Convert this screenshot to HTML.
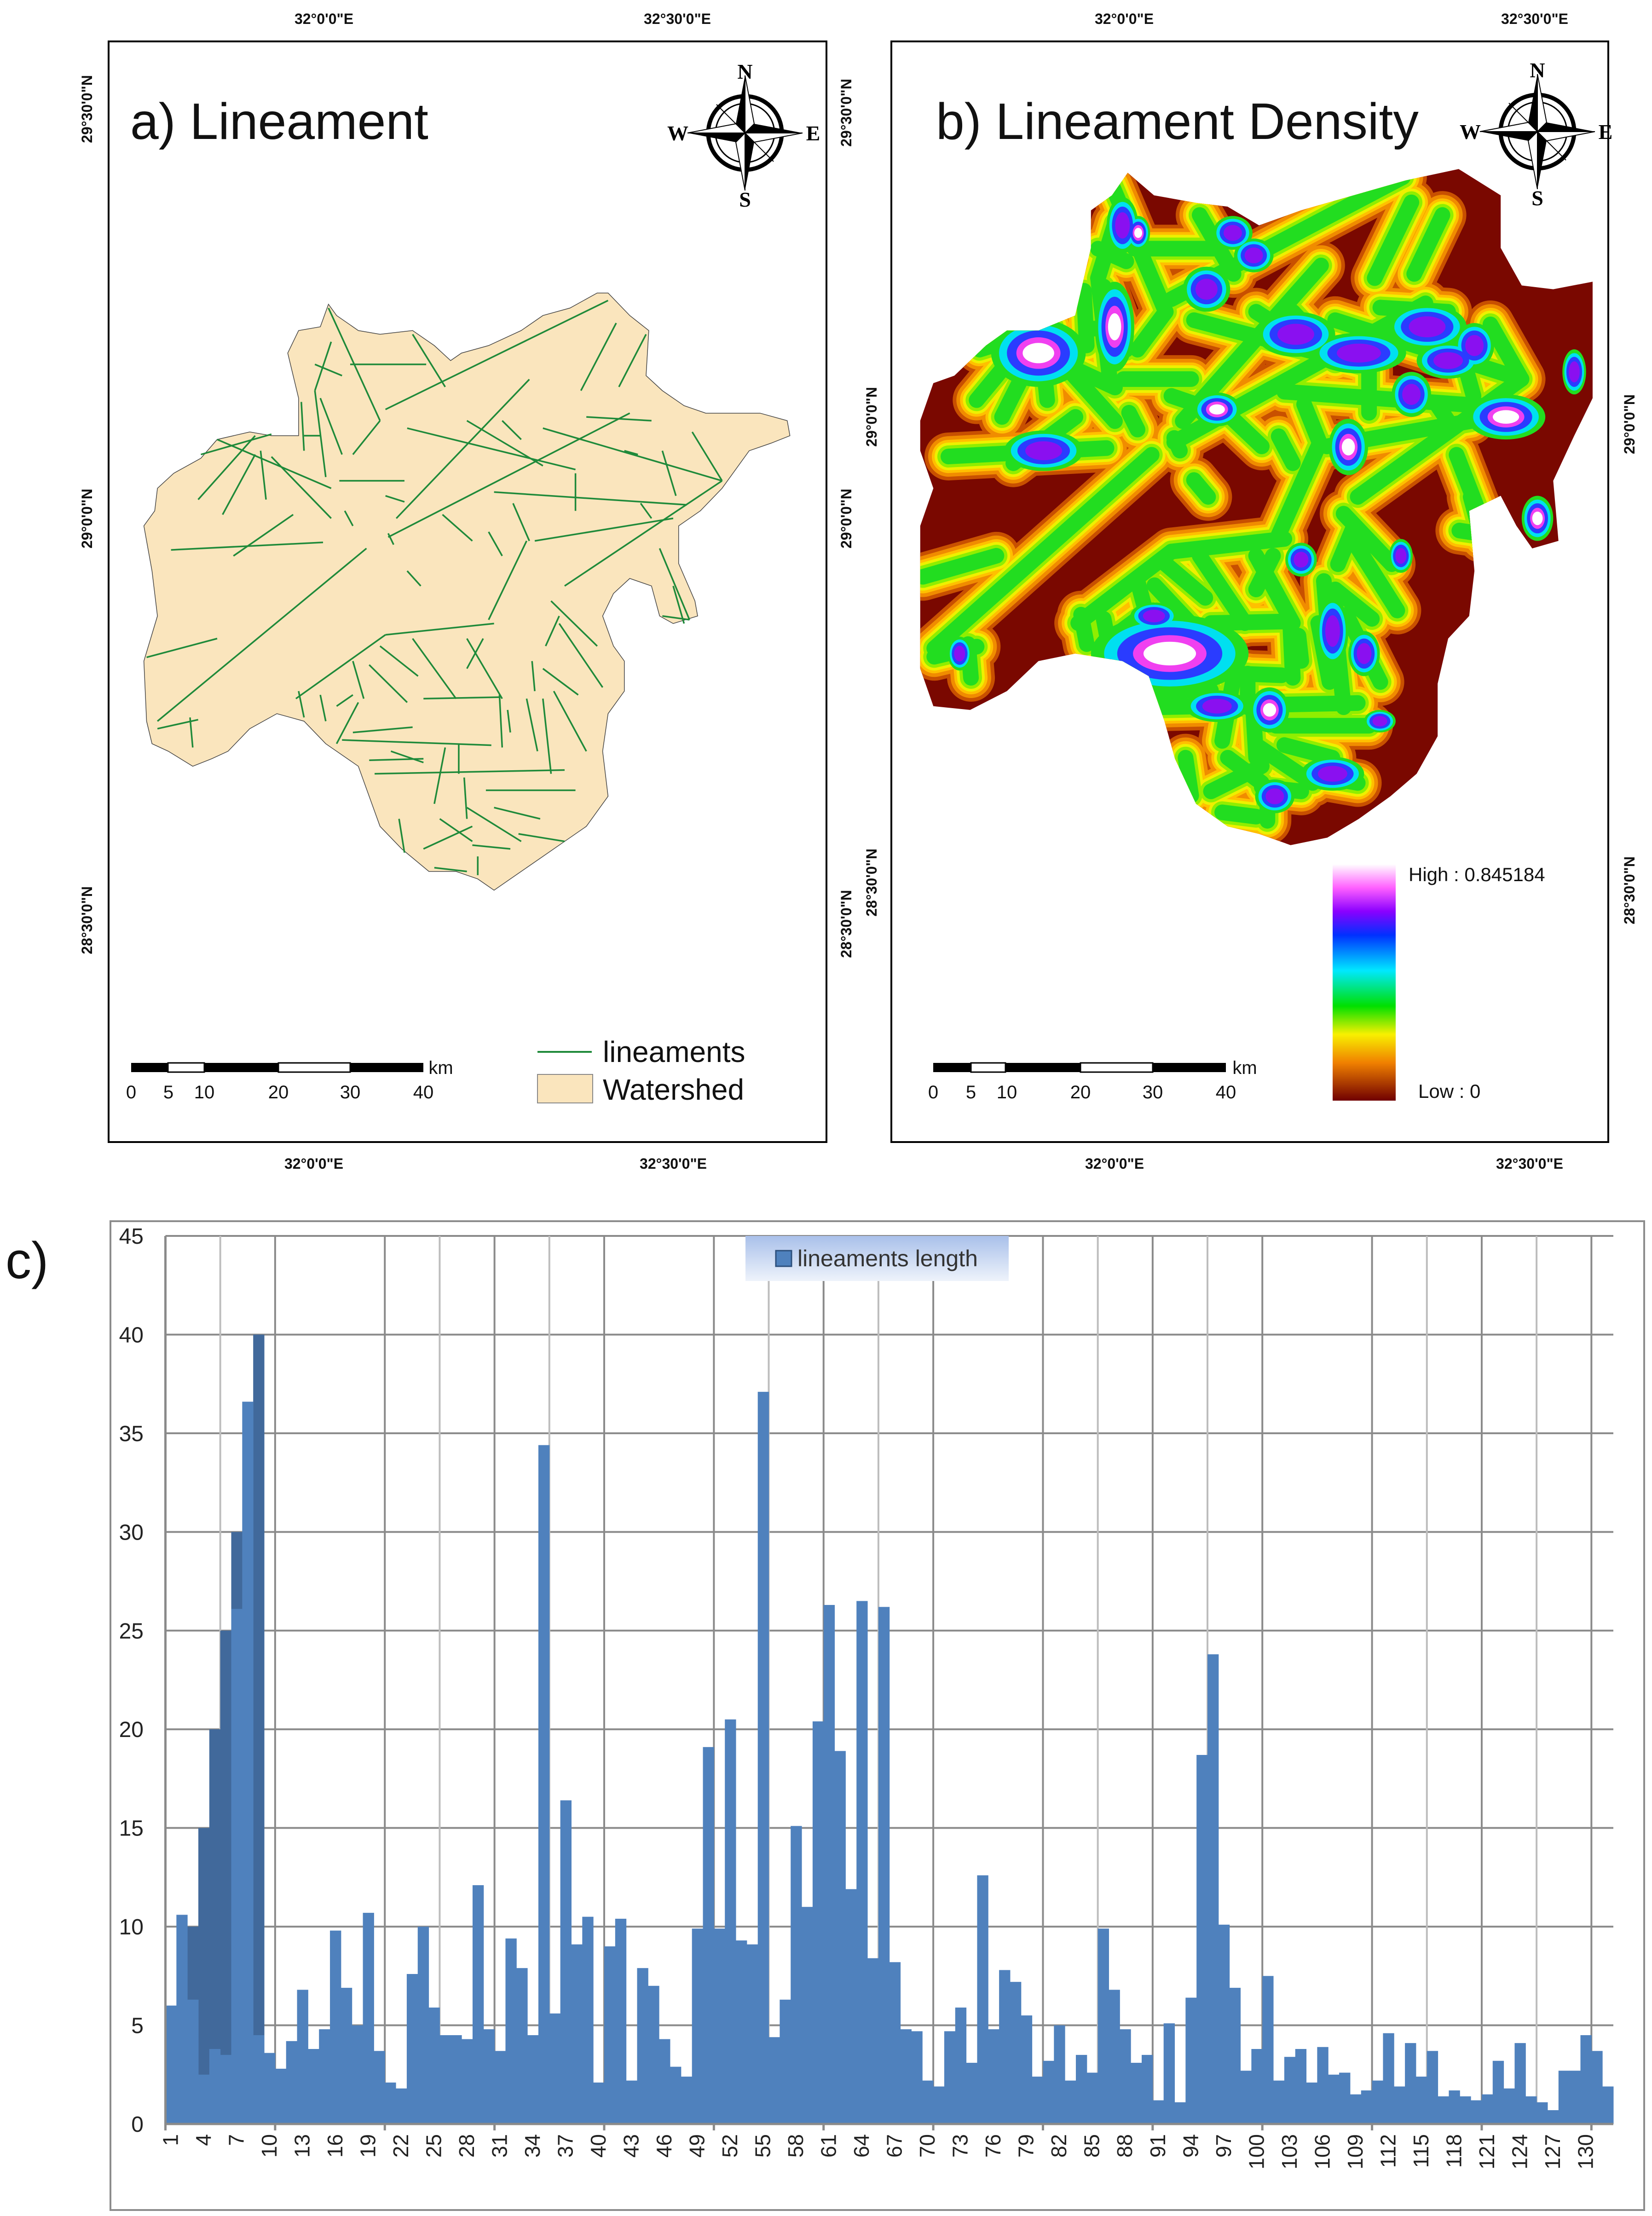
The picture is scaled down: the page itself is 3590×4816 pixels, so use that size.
<!DOCTYPE html>
<html><head><meta charset="utf-8">
<style>
html,body{margin:0;padding:0;background:#fff;}
svg{display:block;}
.lat{font-family:"Liberation Sans",sans-serif;font-weight:bold;font-size:32px;fill:#111;}
</style></head>
<body>
<svg id="root" xmlns="http://www.w3.org/2000/svg" width="3590" height="4816" viewBox="0 0 3590 4816">
<defs>
  <clipPath id="clipB">
    <polygon transform="translate(1800,0) scale(1.14155,1.63265)" points="570,230 620,260 700,270 760,275 820,300 900,280 1000,260 1100,240 1200,225 1280,260 1280,330 1320,380 1380,385 1455,375 1455,530 1420,580 1380,640 1390,720 1340,730 1310,700 1280,660 1220,680 1230,760 1220,820 1180,850 1160,910 1160,980 1120,1030 1070,1060 1010,1090 950,1115 880,1125 820,1110 760,1100 700,1070 660,1010 640,960 610,900 560,880 470,870 400,880 340,920 270,945 200,940 175,890 175,700 200,650 175,600 175,560 200,510 240,500 300,460 340,440 400,440 470,420 500,330 500,280 540,260"/>
  </clipPath>
  <linearGradient id="densGrad" x1="0" y1="0" x2="0" y2="1">
    <stop offset="0" stop-color="#ffffff"/>
    <stop offset="0.1" stop-color="#ff60ff"/>
    <stop offset="0.2" stop-color="#8a00ff"/>
    <stop offset="0.3" stop-color="#0030ff"/>
    <stop offset="0.45" stop-color="#00e8ff"/>
    <stop offset="0.6" stop-color="#00e000"/>
    <stop offset="0.72" stop-color="#f8f000"/>
    <stop offset="0.84" stop-color="#f08000"/>
    <stop offset="1" stop-color="#700000"/>
  </linearGradient>
  <linearGradient id="legGrad" x1="0" y1="0" x2="0" y2="1">
    <stop offset="0" stop-color="#a9c0ea"/>
    <stop offset="1" stop-color="#eef3fb"/>
  </linearGradient>
  <g id="compass">
    <circle r="80" fill="none" stroke="#000" stroke-width="9"/>
    <circle r="64" fill="none" stroke="#000" stroke-width="3"/>
    <polygon points="0,0 -20,-20 -62,-62" fill="#fff" stroke="#000" stroke-width="2"/>
    <polygon points="0,0 20,-20 62,-62" fill="#000"/>
    <polygon points="0,0 20,20 62,62" fill="#fff" stroke="#000" stroke-width="2"/>
    <polygon points="0,0 -20,20 -62,62" fill="#000"/>
    <polygon points="0,0 20,-20 0,-125" fill="#fff" stroke="#000" stroke-width="2"/>
    <polygon points="0,0 -20,-20 0,-125" fill="#000"/>
    <polygon points="0,0 20,20 0,125" fill="#000"/>
    <polygon points="0,0 -20,20 0,125" fill="#fff" stroke="#000" stroke-width="2"/>
    <polygon points="0,0 20,-20 125,0" fill="#000"/>
    <polygon points="0,0 20,20 125,0" fill="#fff" stroke="#000" stroke-width="2"/>
    <polygon points="0,0 -20,-20 -125,0" fill="#fff" stroke="#000" stroke-width="2"/>
    <polygon points="0,0 -20,20 -125,0" fill="#000"/>
    <text x="0" y="-118" text-anchor="middle" font-family="Liberation Serif,serif" font-size="46" font-weight="bold">N</text>
    <text x="0" y="160" text-anchor="middle" font-family="Liberation Serif,serif" font-size="46" font-weight="bold">S</text>
    <text x="-146" y="16" text-anchor="middle" font-family="Liberation Serif,serif" font-size="46" font-weight="bold">W</text>
    <text x="148" y="16" text-anchor="middle" font-family="Liberation Serif,serif" font-size="46" font-weight="bold">E</text>
  </g>
</defs>

<!-- ================= Panel a ================= -->
<g>
  <rect x="236" y="90" width="1560" height="2392" fill="#fff" stroke="#000" stroke-width="4"/>
  <polygon transform="scale(1.17980,1.63265)" fill="#fae5bd" stroke="#444" stroke-width="1.5" vector-effect="non-scaling-stroke"
   points="605,405 620,420 660,440 700,445 760,440 800,460 830,480 850,470 900,460 960,440 1000,420 1050,410 1100,390 1120,390 1160,420 1195,440 1190,500 1220,520 1260,540 1300,550 1400,550 1450,560 1455,580 1420,590 1380,600 1350,630 1330,650 1290,680 1250,700 1250,750 1280,800 1285,820 1240,830 1215,820 1200,780 1160,770 1130,790 1110,820 1130,860 1150,880 1150,920 1120,950 1110,1000 1120,1060 1080,1100 1040,1120 1000,1140 960,1160 910,1185 880,1170 840,1160 790,1160 740,1130 700,1100 680,1060 660,1020 600,990 560,960 510,950 460,970 420,1000 390,1010 355,1020 310,1000 280,990 270,960 265,880 290,820 280,760 265,700 285,680 290,650 320,630 370,610 400,585 460,575 500,580 550,580 550,530 540,500 530,470 550,440 590,435"/>
  <g id="linesA"></g>
  <text x="283" y="302" font-family="Liberation Sans,sans-serif" font-size="111" fill="#111">a) Lineament</text>
  <use href="#compass" x="1619" y="289"/>
  <g>
    <rect x="285" y="2310" width="80" height="20" fill="#000"/>
    <rect x="365" y="2310" width="79" height="20" fill="#fff" stroke="#000" stroke-width="3"/>
    <rect x="444" y="2310" width="161" height="20" fill="#000"/>
    <rect x="605" y="2310" width="156" height="20" fill="#fff" stroke="#000" stroke-width="3"/>
    <rect x="761" y="2310" width="159" height="20" fill="#000"/>
    <g font-family="Liberation Sans,sans-serif" font-size="40" fill="#111" text-anchor="middle">
      <text x="285" y="2387">0</text><text x="366" y="2387">5</text><text x="444" y="2387">10</text>
      <text x="605" y="2387">20</text><text x="761" y="2387">30</text><text x="920" y="2387">40</text>
      <text x="958" y="2334">km</text>
    </g>
  </g>
  <g>
    <line x1="1168" y1="2286" x2="1286" y2="2286" stroke="#1f8a3a" stroke-width="4"/>
    <text x="1310" y="2308" font-family="Liberation Sans,sans-serif" font-size="64" fill="#111">lineaments</text>
    <rect x="1168" y="2335" width="120" height="62" fill="#fae5bd" stroke="#888" stroke-width="2"/>
    <text x="1310" y="2390" font-family="Liberation Sans,sans-serif" font-size="64" fill="#111">Watershed</text>
  </g>
  <g class="lat">
    <text x="704" y="52" text-anchor="middle">32°0'0"E</text>
    <text x="1472" y="52" text-anchor="middle">32°30'0"E</text>
    <text x="682" y="2540" text-anchor="middle">32°0'0"E</text>
    <text x="1463" y="2540" text-anchor="middle">32°30'0"E</text>
    <text transform="translate(200,237) rotate(-90)" text-anchor="middle">29°30'0"N</text>
    <text transform="translate(200,1127) rotate(-90)" text-anchor="middle">29°0'0"N</text>
    <text transform="translate(200,2000) rotate(-90)" text-anchor="middle">28°30'0"N</text>
    <text transform="translate(1850,245) rotate(-90)" text-anchor="middle">29°30'0"N</text>
    <text transform="translate(1850,1127) rotate(-90)" text-anchor="middle">29°0'0"N</text>
    <text transform="translate(1850,2008) rotate(-90)" text-anchor="middle">28°30'0"N</text>
  </g>
</g>

<!-- ================= Panel b ================= -->
<g>
  <rect x="1937" y="90" width="1558" height="2392" fill="#fff" stroke="#000" stroke-width="4"/>
  <g clip-path="url(#clipB)">
    <rect x="1900" y="300" width="1650" height="1600" fill="#7a0800"/>
    <g id="bandsB"></g>
    <g id="blobsB" transform="translate(1800,0) scale(1.14155,1.63265)"></g>
  </g>
  <text x="2034" y="302" font-family="Liberation Sans,sans-serif" font-size="111" fill="#111">b) Lineament Density</text>
  <use href="#compass" x="3341" y="286"/>
  <g>
    <rect x="2028" y="2310" width="82" height="20" fill="#000"/>
    <rect x="2110" y="2310" width="75" height="20" fill="#fff" stroke="#000" stroke-width="3"/>
    <rect x="2185" y="2310" width="163" height="20" fill="#000"/>
    <rect x="2348" y="2310" width="157" height="20" fill="#fff" stroke="#000" stroke-width="3"/>
    <rect x="2505" y="2310" width="159" height="20" fill="#000"/>
    <g font-family="Liberation Sans,sans-serif" font-size="40" fill="#111" text-anchor="middle">
      <text x="2028" y="2387">0</text><text x="2110" y="2387">5</text><text x="2188" y="2387">10</text>
      <text x="2348" y="2387">20</text><text x="2505" y="2387">30</text><text x="2664" y="2387">40</text>
      <text x="2705" y="2334">km</text>
    </g>
  </g>
  <g>
    <rect x="2896" y="1878" width="137" height="514" fill="url(#densGrad)"/>
    <text x="3061" y="1915" font-family="Liberation Sans,sans-serif" font-size="42" fill="#111">High : 0.845184</text>
    <text x="3082" y="2386" font-family="Liberation Sans,sans-serif" font-size="42" fill="#111">Low : 0</text>
  </g>
  <g class="lat">
    <text x="2443" y="52" text-anchor="middle">32°0'0"E</text>
    <text x="3335" y="52" text-anchor="middle">32°30'0"E</text>
    <text x="2422" y="2540" text-anchor="middle">32°0'0"E</text>
    <text x="3324" y="2540" text-anchor="middle">32°30'0"E</text>
    <text transform="translate(1905,906) rotate(-90)" text-anchor="middle">29°0'0"N</text>
    <text transform="translate(1905,1918) rotate(-90)" text-anchor="middle">28°30'0"N</text>
    <text transform="translate(3552,922) rotate(-90)" text-anchor="middle">29°0'0"N</text>
    <text transform="translate(3552,1935) rotate(-90)" text-anchor="middle">28°30'0"N</text>
  </g>
</g>

<!-- ================= Panel c ================= -->
<g>
  <rect x="240" y="2654" width="3333" height="2149" fill="#fff" stroke="#8c8c8c" stroke-width="4"/>
  <text x="12" y="2778" font-family="Liberation Sans,sans-serif" font-size="112" fill="#111">c)</text>
  <g id="gridC"></g>
  <g id="barsC"></g>
  <g id="axesC"></g>
  <g>
    <rect x="1620" y="2686" width="572" height="98" fill="url(#legGrad)"/>
    <rect x="1686" y="2718" width="34" height="34" fill="#4f81bd" stroke="#2c4f7c" stroke-width="3"/>
    <text x="1733" y="2752" font-family="Liberation Sans,sans-serif" font-size="50" fill="#333">lineaments length</text>
  </g>
</g>
</svg>

<script>
// ---------- chart data ----------
const lengths = [6.0,10.6,6.3,2.5,3.8,3.5,26.1,36.6,4.5,3.6,
2.8,4.2,6.8,3.8,4.8,9.8,6.9,5.0,10.7,3.7,
2.1,1.8,7.6,10.0,5.9,4.5,4.5,4.3,12.1,4.8,
3.7,9.4,7.9,4.5,34.4,5.6,16.4,9.1,10.5,2.1,
9.0,10.4,2.2,7.9,7.0,4.3,2.9,2.4,9.9,19.1,
9.9,20.5,9.3,9.1,37.1,4.4,6.3,15.1,11.0,20.4,
26.3,18.9,11.9,26.5,8.4,26.2,8.2,4.8,4.7,2.2,
1.9,4.7,5.9,3.1,12.6,4.8,7.8,7.2,5.5,2.4,
3.2,5.0,2.2,3.5,2.6,9.9,6.8,4.8,3.1,3.5,
1.2,5.1,1.1,6.4,18.7,23.8,10.1,6.9,2.7,3.8,
7.5,2.2,3.4,3.8,2.1,3.9,2.5,2.6,1.5,1.7,
2.2,4.6,1.9,4.1,2.4,3.7,1.4,1.7,1.4,1.2,
1.5,3.2,1.8,4.1,1.4,1.1,0.7,2.7,2.7,4.5,
3.7,1.9];
const categories = lengths.map((v,i)=>i+1);
const overlayCats = [3,4,5,6,7,9];
const overlayVals = [10,15,20,25,30,40];
const yTicks = [0,5,10,15,20,25,30,35,40,45];
const xTickLabels = [1,4,7,10,13,16,19,22,25,28,31,34,37,40,43,46,49,52,55,58,61,64,67,70,73,76,79,82,85,88,91,94,97,100,103,106,109,112,115,118,121,124,127,130];

const NS='http://www.w3.org/2000/svg';
function mk(tag, attrs, parent){const e=document.createElementNS(NS,tag);for(const k in attrs)e.setAttribute(k,attrs[k]);parent.appendChild(e);return e;}

const PL=359.5, PR=3506, PT=2686, PB=4616, YMAX=45;
const bw=(PR-PL)/categories.length;
function xs(cat){return PL+(cat-1)*bw;}
function ys(v){return PB-(v/YMAX)*(PB-PT);}

const grid=document.getElementById('gridC');
yTicks.forEach(t=>{
  if(t===0) return;
  const l=mk('line',{x1:PL,x2:PR,y1:ys(t),y2:ys(t),stroke:'#8a8a8a','stroke-width':4},grid);
  
  
});
for(let b=5;b<=categories.length;b+=5){
  if((b-15)%30===0) continue;
  const x=PL+b*bw;
  const l=mk('line',{x1:x,x2:x,y1:PT,y2:PB,stroke:(b%10===0?'#8a8a8a':'#bdbdbd'),'stroke-width':4},grid);
  
  
}

const bars=document.getElementById('barsC');
overlayCats.forEach((c,i)=>{
  const r=mk('rect',{x:xs(c),y:ys(overlayVals[i]),width:bw+0.5,height:PB-ys(overlayVals[i]),fill:'#41699b'},bars);
  
  
});
lengths.forEach((v,i)=>{
  const r=mk('rect',{x:xs(categories[i]),y:ys(v),width:bw+0.5,height:PB-ys(v),fill:'#4f81bd'},bars);
  
  
});

const axes=document.getElementById('axesC');
const ax=mk('line',{x1:PL,x2:PR,y1:PB,y2:PB,stroke:'#8a8a8a','stroke-width':5},axes);


const ay=mk('line',{x1:PL,x2:PL,y1:PT,y2:PB,stroke:'#8a8a8a','stroke-width':5},axes);


for(let b=0;b<=categories.length;b+=10){
  const tk=mk('line',{x1:PL+b*bw,x2:PL+b*bw,y1:PB,y2:PB+14,stroke:'#8a8a8a','stroke-width':5},axes);
  
  
}
yTicks.forEach(t=>{
  const tx=mk('text',{x:312,y:ys(t)+17,'text-anchor':'end','font-family':'Liberation Sans,sans-serif','font-size':48,fill:'#222'},axes);
  tx.textContent=t;
  
  
});
xTickLabels.forEach(c=>{
  const cx=xs(c)+bw/2+15;
  const tx=mk('text',{transform:'translate('+cx+','+(PB+22)+') rotate(-90)','text-anchor':'end','font-family':'Liberation Sans Narrow,Liberation Sans,sans-serif','font-size':46,fill:'#222'},axes);
  tx.textContent=c;
  
  
});

// ---------- map data ----------
const lineaments=[
[290,960,675,730],[710,545,1120,400],[715,715,1160,550],[1040,780,1330,640],[730,690,975,505],
[900,825,970,720],[315,732,595,722],[270,875,400,850],[290,970,365,958],[350,955,355,995],
[365,665,470,580],[410,685,470,605],[480,600,490,665],[500,608,610,690],[430,740,540,685],
[400,585,610,650],[370,605,500,578],[605,410,700,560],[650,605,700,560],[645,485,785,485],
[580,485,630,500],[580,520,610,455],[590,530,630,605],[580,520,600,635],[760,445,820,515],
[555,535,560,600],[560,580,590,580],[750,570,1060,625],[910,655,1265,672],[860,560,1000,620],
[1000,570,1330,640],[1060,630,1060,680],[985,720,1240,690],[1070,520,1135,430],[1140,515,1190,445],
[1080,555,1200,560],[1275,575,1330,640],[1220,600,1245,660],[1215,730,1270,825],[1220,820,1270,825],
[1240,780,1260,830],[945,670,975,720],[900,708,925,740],[815,685,870,720],[710,660,745,668],
[625,640,745,640],[635,680,650,700],[715,710,725,725],[750,760,775,780],[545,930,710,845],
[710,845,910,830],[760,850,840,930],[860,850,925,930],[860,890,890,850],[700,860,770,900],
[550,920,560,955],[590,925,600,960],[620,940,650,925],[620,990,660,935],[650,880,670,930],
[680,885,750,935],[630,985,905,992],[650,975,760,968],[690,1030,1040,1025],[680,1012,780,1010],
[720,1000,780,1015],[800,1070,820,995],[845,990,845,1030],[855,1035,860,1090],[895,1052,1060,1052],
[860,1075,960,1120],[910,1075,995,1090],[955,1110,1040,1120],[780,1130,870,1100],[810,1090,870,1120],
[870,1125,940,1130],[800,1155,860,1160],[880,1165,880,1140],[735,1090,745,1135],[980,880,985,920],
[970,930,990,1000],[1000,930,1015,1030],[1020,920,1080,1000],[1000,890,1065,925],[1005,860,1030,820],
[1015,800,1100,860],[1030,830,1110,915],[780,930,920,928],[920,925,925,995],[935,945,940,975],
[1150,600,1175,605],[1180,670,1200,690],[925,560,960,585]];

const SX=1.17980, SY=1.63265;
const gA=document.getElementById('linesA');
lineaments.forEach(s=>{
  const l=mk('line',{x1:s[0]*SX,y1:s[1]*SY,x2:s[2]*SX,y2:s[3]*SY,stroke:'#1f8a3a','stroke-width':3.5},gA);
  
  
});

function toB(x,y){const ax=x*SX, ay=y*SY;return [2000+(ax-313)*1.04, 367+(ay-637)*1.12];}
const gB=document.getElementById('bandsB');
const layers=[['#c85000',104],['#f08c00',88],['#ffc000',72],['#eef000',60],['#90ee00',48],['#22dd20',34]];
layers.forEach(L=>{
  lineaments.forEach(s=>{
    const p=toB(s[0],s[1]), q=toB(s[2],s[3]);
    const l=mk('line',{x1:p[0],y1:p[1],x2:q[0],y2:q[1],stroke:L[0],'stroke-width':L[1],'stroke-linecap':'round'},gB);
    
    
  });
});

const blobs=[
[400,470,60,30,1],[545,435,25,40,1],[650,870,100,35,1],[1290,555,50,20,1],[990,595,25,25,1],
[1350,690,20,20,1],[590,310,15,15,1],[740,545,30,15,1],[840,945,25,20,1],
[410,600,50,18,0],[890,445,50,20,0],[1010,470,60,18,0],[1140,435,50,20,0],[1230,460,25,20,0],
[1420,495,15,20,0],[770,310,25,15,0],[810,340,25,15,0],[720,385,30,20,0],[1110,525,25,20,0],
[250,870,15,15,0],[900,745,20,15,0],[960,840,20,30,0],[1020,870,20,20,0],[1090,740,15,15,0],
[960,1030,40,15,0],[850,1060,25,15,0],[1050,960,20,10,0],[560,300,20,25,0],[740,940,40,14,0],
[620,820,30,12,0],[1180,480,40,16,0]];
const gBl=document.getElementById('blobsB');
[['#22dd20',1.5],['#00e0f0',1.25],['#2a3cff',1.0]].forEach(L=>{
  blobs.forEach(b=>{
    const e=mk('ellipse',{cx:b[0],cy:b[1],rx:b[2]*L[1],ry:b[3]*L[1],fill:L[0]},gBl);
    
    
  });
});
blobs.forEach(b=>{
  const e=mk('ellipse',{cx:b[0],cy:b[1],rx:b[2]*0.7,ry:b[3]*0.7,fill:b[4]?'#f040f0':'#8a10f0'},gBl);
  
  
  if(b[4]){
    const w=mk('ellipse',{cx:b[0],cy:b[1],rx:b[2]*0.5,ry:b[3]*0.45,fill:'#ffffff'},gBl);
    
    
  }
});
</script>
</body></html>
